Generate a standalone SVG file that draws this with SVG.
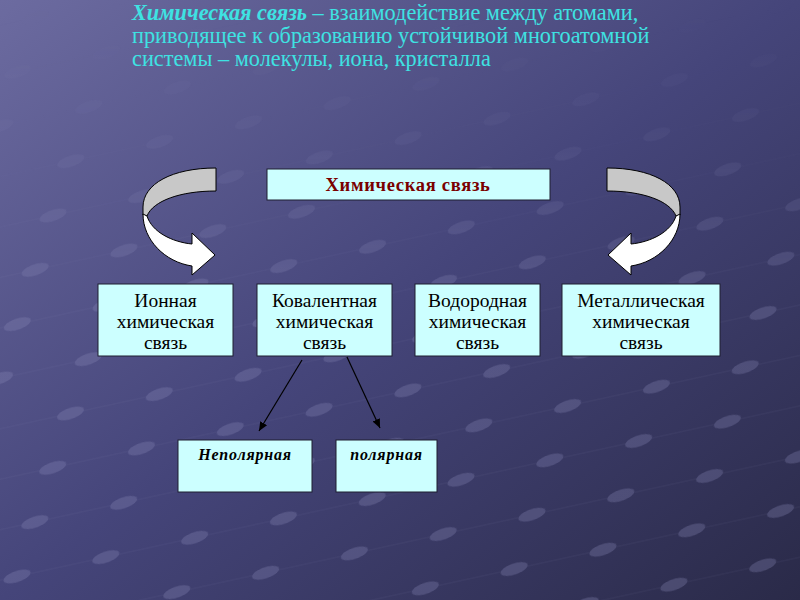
<svg xmlns="http://www.w3.org/2000/svg" width="800" height="600" viewBox="0 0 800 600">
<defs>
<linearGradient id="bg" x1="0" y1="0" x2="1" y2="1">
<stop offset="0" stop-color="#6c6ba0"/>
<stop offset="0.5" stop-color="#45457a"/>
<stop offset="1" stop-color="#2a2a48"/>
</linearGradient>
<pattern id="dots" width="80" height="56" patternUnits="userSpaceOnUse" patternTransform="skewX(-30) rotate(-14)">
<line x1="0" y1="28" x2="80" y2="28" stroke="#9a9ac8" stroke-width="1" stroke-opacity="0.35"/>
<ellipse cx="40" cy="28" rx="12" ry="6.5" fill="#8e8ebc"/>
</pattern>
<linearGradient id="fade" x1="0" y1="0" x2="0" y2="1">
<stop offset="0" stop-color="#fff" stop-opacity="0"/>
<stop offset="0.22" stop-color="#fff" stop-opacity="0.08"/>
<stop offset="0.5" stop-color="#fff" stop-opacity="0.28"/>
<stop offset="1" stop-color="#fff" stop-opacity="0.3"/>
</linearGradient>
<mask id="m"><rect x="0" y="0" width="800" height="600" fill="url(#fade)"/></mask>
<marker id="ah" markerWidth="10" markerHeight="10" refX="9" refY="5" orient="auto" markerUnits="userSpaceOnUse">
<path d="M0,1 L9,5 L0,9 Z" fill="#000"/>
</marker>
<style>
.box{fill:#ccffff;stroke:#1e1e30;stroke-width:1}
.t{font-family:"Liberation Serif","Times New Roman",serif;font-size:19.5px;fill:#000;text-anchor:middle}
.ti{font-family:"Liberation Serif","Times New Roman",serif;font-size:16px;font-weight:bold;font-style:italic;letter-spacing:0.8px;fill:#000;text-anchor:middle}
.head{font-family:"Liberation Serif","Times New Roman",serif;font-size:22.3px;fill:#3ee2e2}
.conn{stroke:#000;stroke-width:1.2;fill:none}
.gray{fill:#c8c8c8;stroke:#000;stroke-width:1}
.white{fill:#ffffff;stroke:#000;stroke-width:1}
</style>
</defs>
<rect width="800" height="600" fill="url(#bg)"/>
<rect width="800" height="600" fill="url(#dots)" mask="url(#m)"/>

<g id="definition">
<text class="head" x="132" y="20"><tspan font-weight="bold" font-style="italic">Химическая связь</tspan> – взаимодействие между атомами,</text>
<text class="head" x="132" y="43">приводящее к образованию устойчивой многоатомной</text>
<text class="head" x="132" y="66">системы – молекулы, иона, кристалла</text>
</g>

<g id="arrow-left">
<path class="gray" d="M216,168 C172,168 143,184 143,207 L143,215 L147,216 C153,201 180,191 216,191 Z"/>
<path class="white" d="M143,214 C143,240 165,262 192,266 L192,275 L215,255 L192,233 L192,244 C172,242 152,232 147,216 Z"/>
</g>
<g id="arrow-right" transform="translate(823,0) scale(-1,1)">
<path class="gray" d="M216,168 C172,168 143,184 143,207 L143,215 L147,216 C153,201 180,191 216,191 Z"/>
<path class="white" d="M143,214 C143,240 165,262 192,266 L192,275 L215,255 L192,233 L192,244 C172,242 152,232 147,216 Z"/>
</g>

<g id="node-root">
<rect class="box" x="267" y="169" width="283" height="31"/>
<text x="408" y="191" text-anchor="middle" font-family="'Liberation Serif','Times New Roman',serif" font-size="18.5" font-weight="bold" letter-spacing="0.7" fill="#7a0000">Химическая связь</text>
</g>

<g id="node-ionic">
<rect class="box" x="98" y="284" width="135" height="72"/>
<text class="t" x="165.5" y="307">Ионная</text>
<text class="t" x="165.5" y="328">химическая</text>
<text class="t" x="165.5" y="349">связь</text>
</g>
<g id="node-covalent">
<rect class="box" x="257" y="284" width="135" height="72"/>
<text class="t" x="324.5" y="307">Ковалентная</text>
<text class="t" x="324.5" y="328">химическая</text>
<text class="t" x="324.5" y="349">связь</text>
</g>
<g id="node-hydrogen">
<rect class="box" x="415" y="284" width="125" height="72"/>
<text class="t" x="477.5" y="307">Водородная</text>
<text class="t" x="477.5" y="328">химическая</text>
<text class="t" x="477.5" y="349">связь</text>
</g>
<g id="node-metallic">
<rect class="box" x="562" y="284" width="158" height="72"/>
<text class="t" x="641" y="307">Металлическая</text>
<text class="t" x="641" y="328">химическая</text>
<text class="t" x="641" y="349">связь</text>
</g>

<g id="node-nonpolar">
<rect class="box" x="178" y="440" width="134" height="52"/>
<text class="ti" x="245" y="460">Неполярная</text>
</g>
<g id="node-polar">
<rect class="box" x="336" y="440" width="101" height="52"/>
<text class="ti" x="386.5" y="460">полярная</text>
</g>

<g id="connectors">
<line class="conn" x1="302" y1="360" x2="259" y2="431" marker-end="url(#ah)"/>
<line class="conn" x1="347" y1="357" x2="380" y2="428" marker-end="url(#ah)"/>
</g>
</svg>
